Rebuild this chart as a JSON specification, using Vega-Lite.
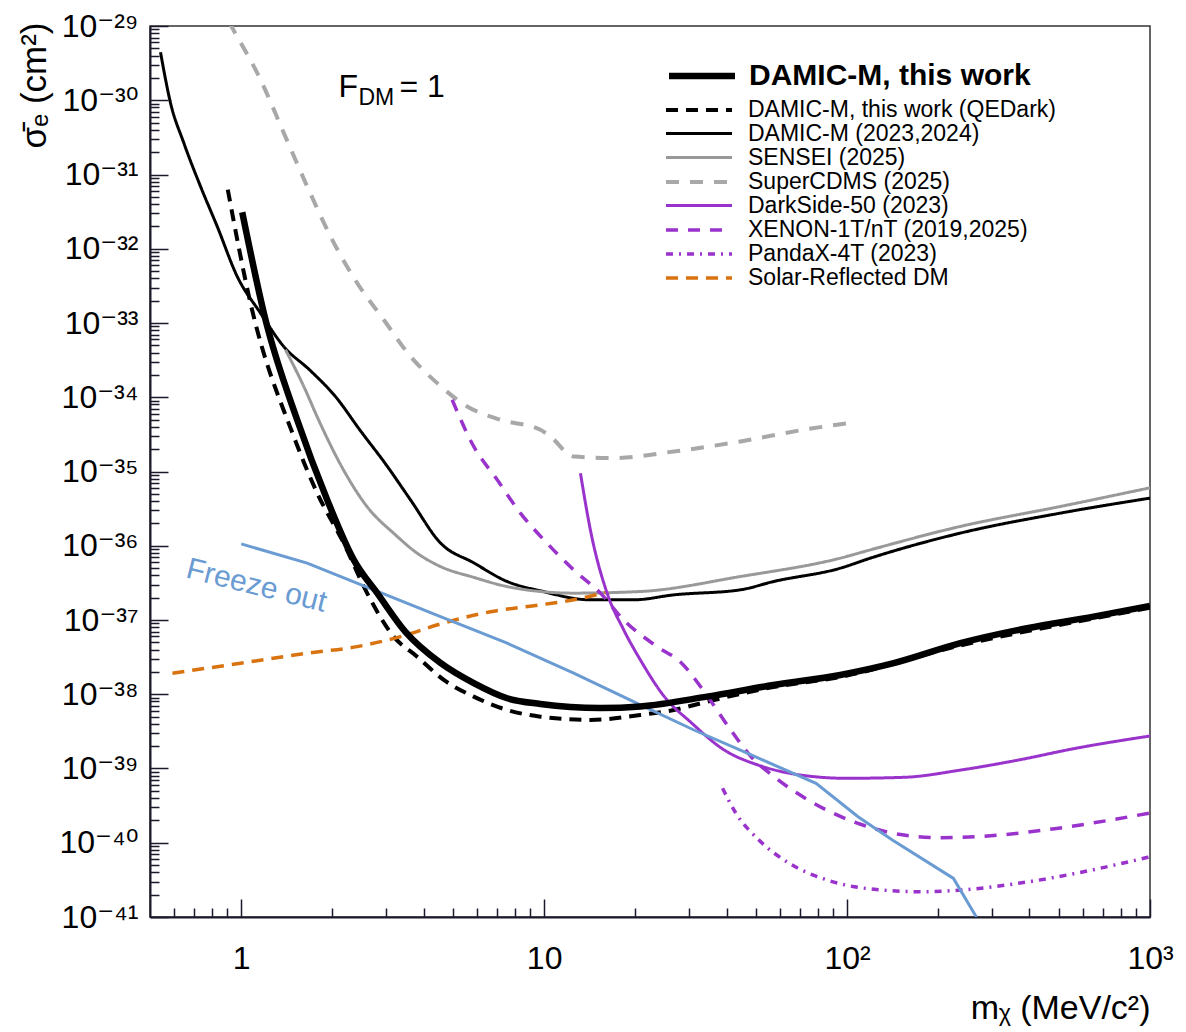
{
  "$schema": "https://vega.github.io/schema/vega-lite/v6.json",
  "width": 1000,
  "height": 891,
  "autosize": {"type": "none"},
  "padding": {"left": 150, "top": 26, "right": 36, "bottom": 115},
  "background": "white",
  "config": {
    "font": "Liberation Sans",
    "view": {"stroke": "#333333", "strokeWidth": 1.5}
  },
  "datasets": {
    "thiswork": [
      {"series": "DAMIC-M, this work", "m": 1.008, "s": 3.1e-32},
      {"series": "DAMIC-M, this work", "m": 1.203, "s": 1.107e-33},
      {"series": "DAMIC-M, this work", "m": 1.53, "s": 4.97e-35},
      {"series": "DAMIC-M, this work", "m": 1.922, "s": 4.16e-36},
      {"series": "DAMIC-M, this work", "m": 2.353, "s": 6.46e-37},
      {"series": "DAMIC-M, this work", "m": 2.839, "s": 2.18e-37},
      {"series": "DAMIC-M, this work", "m": 3.485, "s": 6.92e-38},
      {"series": "DAMIC-M, this work", "m": 4.548, "s": 2.64e-38},
      {"series": "DAMIC-M, this work", "m": 5.858, "s": 1.41e-38},
      {"series": "DAMIC-M, this work", "m": 7.55, "s": 8.83e-39},
      {"series": "DAMIC-M, this work", "m": 9.72, "s": 7.4e-39},
      {"series": "DAMIC-M, this work", "m": 15.34, "s": 6.53e-39},
      {"series": "DAMIC-M, this work", "m": 20.78, "s": 6.86e-39},
      {"series": "DAMIC-M, this work", "m": 34.5, "s": 9.29e-39},
      {"series": "DAMIC-M, this work", "m": 57.1, "s": 1.33e-38},
      {"series": "DAMIC-M, this work", "m": 95.0, "s": 1.82e-38},
      {"series": "DAMIC-M, this work", "m": 142.5, "s": 2.62e-38},
      {"series": "DAMIC-M, this work", "m": 236.5, "s": 4.87e-38},
      {"series": "DAMIC-M, this work", "m": 392.7, "s": 7.75e-38},
      {"series": "DAMIC-M, this work", "m": 651.4, "s": 1.11e-37},
      {"series": "DAMIC-M, this work", "m": 1000, "s": 1.55e-37}
    ],
    "curves": [
      {"series": "DAMIC-M, this work (QEDark)", "m": 0.903, "s": 6.26e-32},
      {"series": "DAMIC-M, this work (QEDark)", "m": 1.073, "s": 1.86e-33},
      {"series": "DAMIC-M, this work (QEDark)", "m": 1.491, "s": 2.96e-35},
      {"series": "DAMIC-M, this work (QEDark)", "m": 1.782, "s": 5.12e-36},
      {"series": "DAMIC-M, this work (QEDark)", "m": 2.181, "s": 1.08e-36},
      {"series": "DAMIC-M, this work (QEDark)", "m": 2.605, "s": 2.3e-37},
      {"series": "DAMIC-M, this work (QEDark)", "m": 3.188, "s": 5.97e-38},
      {"series": "DAMIC-M, this work (QEDark)", "m": 3.81, "s": 3.21e-38},
      {"series": "DAMIC-M, this work (QEDark)", "m": 4.665, "s": 1.56e-38},
      {"series": "DAMIC-M, this work (QEDark)", "m": 5.858, "s": 9.29e-39},
      {"series": "DAMIC-M, this work (QEDark)", "m": 7.55, "s": 6.14e-39},
      {"series": "DAMIC-M, this work (QEDark)", "m": 9.72, "s": 4.99e-39},
      {"series": "DAMIC-M, this work (QEDark)", "m": 14.21, "s": 4.51e-39},
      {"series": "DAMIC-M, this work (QEDark)", "m": 20.78, "s": 5.26e-39},
      {"series": "DAMIC-M, this work (QEDark)", "m": 26.78, "s": 6.14e-39},
      {"series": "DAMIC-M, this work (QEDark)", "m": 34.5, "s": 7.94e-39},
      {"series": "DAMIC-M, this work (QEDark)", "m": 57.1, "s": 1.25e-38},
      {"series": "DAMIC-M, this work (QEDark)", "m": 95.0, "s": 1.71e-38},
      {"series": "DAMIC-M, this work (QEDark)", "m": 236.5, "s": 4.55e-38},
      {"series": "DAMIC-M, this work (QEDark)", "m": 651.4, "s": 1.05e-37},
      {"series": "DAMIC-M, this work (QEDark)", "m": 1000, "s": 1.46e-37},

      {"series": "DAMIC-M (2023,2024)", "m": 0.5416, "s": 4.43e-30},
      {"series": "DAMIC-M (2023,2024)", "m": 0.5843, "s": 9.23e-31},
      {"series": "DAMIC-M (2023,2024)", "m": 0.6463, "s": 2.67e-31},
      {"series": "DAMIC-M (2023,2024)", "m": 0.7339, "s": 6.93e-32},
      {"series": "DAMIC-M (2023,2024)", "m": 0.8333, "s": 2.0e-32},
      {"series": "DAMIC-M (2023,2024)", "m": 0.97, "s": 4.25e-33},
      {"series": "DAMIC-M (2023,2024)", "m": 1.158, "s": 1.36e-33},
      {"series": "DAMIC-M (2023,2024)", "m": 1.379, "s": 4.87e-34},
      {"series": "DAMIC-M (2023,2024)", "m": 1.693, "s": 2.28e-34},
      {"series": "DAMIC-M (2023,2024)", "m": 2.048, "s": 1.02e-34},
      {"series": "DAMIC-M (2023,2024)", "m": 2.476, "s": 3.53e-35},
      {"series": "DAMIC-M (2023,2024)", "m": 2.994, "s": 1.27e-35},
      {"series": "DAMIC-M (2023,2024)", "m": 3.62, "s": 4.16e-36},
      {"series": "DAMIC-M (2023,2024)", "m": 4.548, "s": 1.09e-36},
      {"series": "DAMIC-M (2023,2024)", "m": 5.858, "s": 5.88e-37},
      {"series": "DAMIC-M (2023,2024)", "m": 7.55, "s": 3.3e-37},
      {"series": "DAMIC-M (2023,2024)", "m": 9.72, "s": 2.47e-37},
      {"series": "DAMIC-M (2023,2024)", "m": 14.21, "s": 1.87e-37},
      {"series": "DAMIC-M (2023,2024)", "m": 19.76, "s": 1.87e-37},
      {"series": "DAMIC-M (2023,2024)", "m": 26.78, "s": 2.18e-37},
      {"series": "DAMIC-M (2023,2024)", "m": 44.45, "s": 2.55e-37},
      {"series": "DAMIC-M (2023,2024)", "m": 57.25, "s": 3.3e-37},
      {"series": "DAMIC-M (2023,2024)", "m": 95.0, "s": 4.99e-37},
      {"series": "DAMIC-M (2023,2024)", "m": 119.4, "s": 6.81e-37},
      {"series": "DAMIC-M (2023,2024)", "m": 236.5, "s": 1.48e-36},
      {"series": "DAMIC-M (2023,2024)", "m": 505.8, "s": 2.75e-36},
      {"series": "DAMIC-M (2023,2024)", "m": 1000, "s": 4.38e-36},

      {"series": "SENSEI (2025)", "m": 1.4, "s": 4.37e-34},
      {"series": "SENSEI (2025)", "m": 1.609, "s": 1.4e-34},
      {"series": "SENSEI (2025)", "m": 1.8, "s": 4.97e-35},
      {"series": "SENSEI (2025)", "m": 2.176, "s": 1.05e-35},
      {"series": "SENSEI (2025)", "m": 2.591, "s": 3.45e-36},
      {"series": "SENSEI (2025)", "m": 3.231, "s": 1.4e-36},
      {"series": "SENSEI (2025)", "m": 3.81, "s": 7.94e-37},
      {"series": "SENSEI (2025)", "m": 4.548, "s": 5.25e-37},
      {"series": "SENSEI (2025)", "m": 5.858, "s": 3.75e-37},
      {"series": "SENSEI (2025)", "m": 7.55, "s": 2.82e-37},
      {"series": "SENSEI (2025)", "m": 9.72, "s": 2.42e-37},
      {"series": "SENSEI (2025)", "m": 12.52, "s": 2.3e-37},
      {"series": "SENSEI (2025)", "m": 20.78, "s": 2.42e-37},
      {"series": "SENSEI (2025)", "m": 44.45, "s": 3.85e-37},
      {"series": "SENSEI (2025)", "m": 95.0, "s": 6.81e-37},
      {"series": "SENSEI (2025)", "m": 119.4, "s": 8.81e-37},
      {"series": "SENSEI (2025)", "m": 236.5, "s": 1.82e-36},
      {"series": "SENSEI (2025)", "m": 505.8, "s": 3.38e-36},
      {"series": "SENSEI (2025)", "m": 1000, "s": 6.03e-36},

      {"series": "SuperCDMS (2025)", "m": 0.912, "s": 1.13e-29},
      {"series": "SuperCDMS (2025)", "m": 0.934, "s": 9.46e-30},
      {"series": "SuperCDMS (2025)", "m": 1.158, "s": 1.9e-30},
      {"series": "SuperCDMS (2025)", "m": 1.382, "s": 3.64e-31},
      {"series": "SuperCDMS (2025)", "m": 1.651, "s": 6.93e-32},
      {"series": "SuperCDMS (2025)", "m": 1.971, "s": 1.47e-32},
      {"series": "SuperCDMS (2025)", "m": 2.414, "s": 3.46e-33},
      {"series": "SuperCDMS (2025)", "m": 2.955, "s": 1.107e-33},
      {"series": "SuperCDMS (2025)", "m": 3.62, "s": 3.55e-34},
      {"series": "SuperCDMS (2025)", "m": 4.436, "s": 1.55e-34},
      {"series": "SuperCDMS (2025)", "m": 5.571, "s": 7.52e-35},
      {"series": "SuperCDMS (2025)", "m": 7.175, "s": 4.97e-35},
      {"series": "SuperCDMS (2025)", "m": 9.72, "s": 3.65e-35},
      {"series": "SuperCDMS (2025)", "m": 10.49, "s": 2.96e-35},
      {"series": "SuperCDMS (2025)", "m": 12.52, "s": 1.59e-35},
      {"series": "SuperCDMS (2025)", "m": 16.97, "s": 1.52e-35},
      {"series": "SuperCDMS (2025)", "m": 26.78, "s": 1.86e-35},
      {"series": "SuperCDMS (2025)", "m": 44.45, "s": 2.54e-35},
      {"series": "SuperCDMS (2025)", "m": 71.9, "s": 3.65e-35},
      {"series": "SuperCDMS (2025)", "m": 101.2, "s": 4.49e-35},

      {"series": "DarkSide-50 (2023)", "m": 13.18, "s": 9.5e-36},
      {"series": "DarkSide-50 (2023)", "m": 14.21, "s": 1.64e-36},
      {"series": "DarkSide-50 (2023)", "m": 16.14, "s": 2.3e-37},
      {"series": "DarkSide-50 (2023)", "m": 18.31, "s": 7.36e-38},
      {"series": "DarkSide-50 (2023)", "m": 20.78, "s": 2.9e-38},
      {"series": "DarkSide-50 (2023)", "m": 25.14, "s": 8.91e-39},
      {"series": "DarkSide-50 (2023)", "m": 30.4, "s": 4.24e-39},
      {"series": "DarkSide-50 (2023)", "m": 39.36, "s": 1.77e-39},
      {"series": "DarkSide-50 (2023)", "m": 50.97, "s": 1.11e-39},
      {"series": "DarkSide-50 (2023)", "m": 70.15, "s": 8.17e-40},
      {"series": "DarkSide-50 (2023)", "m": 99.5, "s": 7.38e-40},
      {"series": "DarkSide-50 (2023)", "m": 154, "s": 7.61e-40},
      {"series": "DarkSide-50 (2023)", "m": 238, "s": 9.55e-40},
      {"series": "DarkSide-50 (2023)", "m": 367.6, "s": 1.3e-39},
      {"series": "DarkSide-50 (2023)", "m": 568.1, "s": 1.87e-39},
      {"series": "DarkSide-50 (2023)", "m": 1000, "s": 2.74e-39},

      {"series": "XENON-1T/nT (2019,2025)", "m": 4.97, "s": 9.25e-35},
      {"series": "XENON-1T/nT (2019,2025)", "m": 5.858, "s": 2.17e-35},
      {"series": "XENON-1T/nT (2019,2025)", "m": 7.0, "s": 7.73e-36},
      {"series": "XENON-1T/nT (2019,2025)", "m": 8.35, "s": 2.75e-36},
      {"series": "XENON-1T/nT (2019,2025)", "m": 10.23, "s": 1.08e-36},
      {"series": "XENON-1T/nT (2019,2025)", "m": 12.52, "s": 4.73e-37},
      {"series": "XENON-1T/nT (2019,2025)", "m": 15.34, "s": 2.3e-37},
      {"series": "XENON-1T/nT (2019,2025)", "m": 18.31, "s": 1.0e-37},
      {"series": "XENON-1T/nT (2019,2025)", "m": 23.6, "s": 4.38e-38},
      {"series": "XENON-1T/nT (2019,2025)", "m": 28.18, "s": 2.72e-38},
      {"series": "XENON-1T/nT (2019,2025)", "m": 34.07, "s": 1.03e-38},
      {"series": "XENON-1T/nT (2019,2025)", "m": 40.58, "s": 3.66e-39},
      {"series": "XENON-1T/nT (2019,2025)", "m": 48.27, "s": 1.44e-39},
      {"series": "XENON-1T/nT (2019,2025)", "m": 57.42, "s": 7.75e-40},
      {"series": "XENON-1T/nT (2019,2025)", "m": 74.5, "s": 3.76e-40},
      {"series": "XENON-1T/nT (2019,2025)", "m": 108.7, "s": 1.82e-40},
      {"series": "XENON-1T/nT (2019,2025)", "m": 154, "s": 1.27e-40},
      {"series": "XENON-1T/nT (2019,2025)", "m": 205.8, "s": 1.17e-40},
      {"series": "XENON-1T/nT (2019,2025)", "m": 318, "s": 1.27e-40},
      {"series": "XENON-1T/nT (2019,2025)", "m": 491.3, "s": 1.56e-40},
      {"series": "XENON-1T/nT (2019,2025)", "m": 1000, "s": 2.51e-40},

      {"series": "PandaX-4T (2023)", "m": 38.82, "s": 5.41e-40},
      {"series": "PandaX-4T (2023)", "m": 42.98, "s": 2.49e-40},
      {"series": "PandaX-4T (2023)", "m": 51.16, "s": 1.09e-40},
      {"series": "PandaX-4T (2023)", "m": 64.5, "s": 5.28e-41},
      {"series": "PandaX-4T (2023)", "m": 86.2, "s": 3.14e-41},
      {"series": "PandaX-4T (2023)", "m": 115.2, "s": 2.43e-41},
      {"series": "PandaX-4T (2023)", "m": 178.1, "s": 2.19e-41},
      {"series": "PandaX-4T (2023)", "m": 238, "s": 2.31e-41},
      {"series": "PandaX-4T (2023)", "m": 367.6, "s": 2.84e-41},
      {"series": "PandaX-4T (2023)", "m": 568.1, "s": 3.87e-41},
      {"series": "PandaX-4T (2023)", "m": 1000, "s": 6.47e-41},

      {"series": "Solar-Reflected DM", "m": 0.593, "s": 1.92e-38},
      {"series": "Solar-Reflected DM", "m": 0.995, "s": 2.62e-38},
      {"series": "Solar-Reflected DM", "m": 1.651, "s": 3.57e-38},
      {"series": "Solar-Reflected DM", "m": 2.414, "s": 4.38e-38},
      {"series": "Solar-Reflected DM", "m": 3.356, "s": 5.97e-38},
      {"series": "Solar-Reflected DM", "m": 4.548, "s": 8.85e-38},
      {"series": "Solar-Reflected DM", "m": 6.65, "s": 1.29e-37},
      {"series": "Solar-Reflected DM", "m": 9.72, "s": 1.6e-37},
      {"series": "Solar-Reflected DM", "m": 12.52, "s": 1.87e-37},
      {"series": "Solar-Reflected DM", "m": 15.94, "s": 2.34e-37}
    ],
    "freeze": [
      {"m": 1.0, "s": 1.06e-36},
      {"m": 1.651, "s": 5.83e-37},
      {"m": 2.739, "s": 2.55e-37},
      {"m": 4.548, "s": 1.11e-37},
      {"m": 7.55, "s": 4.87e-38},
      {"m": 12.52, "s": 1.92e-38},
      {"m": 20.78, "s": 7.18e-39},
      {"m": 31.23, "s": 3.3e-39},
      {"m": 48.27, "s": 1.52e-39},
      {"m": 79.0, "s": 6.32e-40},
      {"m": 108.7, "s": 2.24e-40},
      {"m": 141.1, "s": 1.09e-40},
      {"m": 224.5, "s": 3.31e-41},
      {"m": 267.2, "s": 1.0e-41}
    ]
  },
  "layer": [
    {
      "data": {"name": "curves"},
      "mark": {"type": "line", "interpolate": "monotone", "clip": true},
      "encoding": {
        "x": {
          "field": "m", "type": "quantitative",
          "scale": {"type": "log", "domain": [0.5, 1000], "nice": false},
          "axis": {
            "title": "mᵪ (MeV/c²)",
            "values": [0.6, 0.7, 0.8, 0.9, 1, 2, 3, 4, 5, 6, 7, 8, 9, 10, 20, 30, 40, 50, 60, 70, 80, 90, 100, 200, 300, 400, 500, 600, 700, 800, 900, 1000],
            "labelExpr": "datum.value == 1 ? '1' : datum.value == 10 ? '10' : datum.value == 100 ? '10²' : datum.value == 1000 ? '10³' : ''",
            "grid": false,
            "domainColor": "#1a1a2a", "domainWidth": 2,
            "tickColor": "#1a1a2a", "tickWidth": 1.5,
            "tickSize": {"condition": {"test": "abs(log(datum.value)/LN10 - round(log(datum.value)/LN10)) < 0.01", "value": -18}, "value": -9},
            "labelFont": "Liberation Sans, DejaVu Sans",
            "labelFontSize": 32, "labelColor": "black", "labelPadding": 44,
            "labelBaseline": "top", "labelAlign": "center",
            "labelOverlap": false, "labelFlush": false, "labelBound": false,
            "titleFont": "Liberation Sans, DejaVu Sans",
            "titleFontSize": 34, "titleFontWeight": "normal", "titleColor": "black",
            "titleX": 1000, "titleY": 101, "titleAlign": "right", "titleBaseline": "alphabetic"
          }
        },
        "y": {
          "field": "s", "type": "quantitative",
          "scale": {"type": "log", "domain": [1e-41, 1e-29], "nice": false},
          "axis": {
            "title": "σ̄ₑ (cm²)",
            "values": [1e-41, 2e-41, 3e-41, 4e-41, 5e-41, 6e-41, 7e-41, 8e-41, 9e-41,
                       1e-40, 2e-40, 3e-40, 4e-40, 5e-40, 6e-40, 7e-40, 8e-40, 9e-40,
                       1e-39, 2e-39, 3e-39, 4e-39, 5e-39, 6e-39, 7e-39, 8e-39, 9e-39,
                       1e-38, 2e-38, 3e-38, 4e-38, 5e-38, 6e-38, 7e-38, 8e-38, 9e-38,
                       1e-37, 2e-37, 3e-37, 4e-37, 5e-37, 6e-37, 7e-37, 8e-37, 9e-37,
                       1e-36, 2e-36, 3e-36, 4e-36, 5e-36, 6e-36, 7e-36, 8e-36, 9e-36,
                       1e-35, 2e-35, 3e-35, 4e-35, 5e-35, 6e-35, 7e-35, 8e-35, 9e-35,
                       1e-34, 2e-34, 3e-34, 4e-34, 5e-34, 6e-34, 7e-34, 8e-34, 9e-34,
                       1e-33, 2e-33, 3e-33, 4e-33, 5e-33, 6e-33, 7e-33, 8e-33, 9e-33,
                       1e-32, 2e-32, 3e-32, 4e-32, 5e-32, 6e-32, 7e-32, 8e-32, 9e-32,
                       1e-31, 2e-31, 3e-31, 4e-31, 5e-31, 6e-31, 7e-31, 8e-31, 9e-31,
                       1e-30, 2e-30, 3e-30, 4e-30, 5e-30, 6e-30, 7e-30, 8e-30, 9e-30,
                       1e-29],
            "labelExpr": "abs(log(datum.value)/LN10 - round(log(datum.value)/LN10)) < 0.01 ? '10⁻' + substring('⁰¹²³⁴⁵⁶⁷⁸⁹', floor(-round(log(datum.value)/LN10)/10), floor(-round(log(datum.value)/LN10)/10) + 1) + substring('⁰¹²³⁴⁵⁶⁷⁸⁹', (-round(log(datum.value)/LN10)) % 10, (-round(log(datum.value)/LN10)) % 10 + 1) : ''",
            "grid": false,
            "domainColor": "#1a1a2a", "domainWidth": 2,
            "tickColor": "#1a1a2a", "tickWidth": 1.5,
            "tickSize": {"condition": {"test": "abs(log(datum.value)/LN10 - round(log(datum.value)/LN10)) < 0.01", "value": -18}, "value": -9},
            "labelFont": "Liberation Sans, DejaVu Sans",
            "labelFontSize": 32, "labelColor": "black", "labelPadding": 30,
            "labelAlign": "right", "labelBaseline": "middle",
            "labelOverlap": false, "labelFlush": false, "labelBound": false,
            "titleFont": "Liberation Sans, DejaVu Sans",
            "titleFontSize": 35, "titleFontWeight": "normal", "titleColor": "black",
            "titleAngle": -90, "titleX": -116, "titleY": -4, "titleAlign": "right", "titleBaseline": "middle"
          }
        },
        "color": {
          "field": "series", "type": "nominal",
          "scale": {
            "domain": ["DAMIC-M, this work (QEDark)", "DAMIC-M (2023,2024)", "SENSEI (2025)", "SuperCDMS (2025)", "DarkSide-50 (2023)", "XENON-1T/nT (2019,2025)", "PandaX-4T (2023)", "Solar-Reflected DM"],
            "range": ["#000000", "#000000", "#999999", "#a8a8a8", "#9933cc", "#9933cc", "#9933cc", "#d9730f"]
          },
          "legend": {"title": null, "orient": "none", "legendX": 537, "legendY": 72, "symbolType": "M-3.3,0H3.3", "symbolSize": 400, "labelFontSize": 23, "labelColor": "black", "labelLimit": 700, "labelOffset": 37, "rowPadding": 0, "padding": 0}
        },
        "strokeDash": {
          "field": "series", "type": "nominal",
          "scale": {
            "domain": ["DAMIC-M, this work (QEDark)", "DAMIC-M (2023,2024)", "SENSEI (2025)", "SuperCDMS (2025)", "DarkSide-50 (2023)", "XENON-1T/nT (2019,2025)", "PandaX-4T (2023)", "Solar-Reflected DM"],
            "range": [[12, 8], [1, 0], [1, 0], [13, 11], [1, 0], [12, 10], [7, 6, 2, 6], [12, 8]]
          },
          "legend": {"title": null, "orient": "none", "legendX": 537, "legendY": 72, "symbolType": "M-3.3,0H3.3", "symbolSize": 400, "labelFontSize": 23, "labelColor": "black", "labelLimit": 700, "labelOffset": 37, "rowPadding": 0, "padding": 0}
        },
        "strokeWidth": {
          "field": "series", "type": "nominal",
          "scale": {
            "type": "ordinal",
            "domain": ["DAMIC-M, this work (QEDark)", "DAMIC-M (2023,2024)", "SENSEI (2025)", "SuperCDMS (2025)", "DarkSide-50 (2023)", "XENON-1T/nT (2019,2025)", "PandaX-4T (2023)", "Solar-Reflected DM"],
            "range": [4, 3, 3, 4, 3, 3.5, 3.5, 3.5]
          },
          "legend": {"title": null, "orient": "none", "legendX": 537, "legendY": 72, "symbolType": "M-3.3,0H3.3", "symbolSize": 400, "labelFontSize": 23, "labelColor": "black", "labelLimit": 700, "labelOffset": 37, "rowPadding": 0, "padding": 0}
        }
      }
    },
    {
      "data": {"name": "freeze"},
      "mark": {"type": "line", "color": "#6a9bd2", "strokeWidth": 3, "clip": true},
      "encoding": {
        "x": {"field": "m", "type": "quantitative"},
        "y": {"field": "s", "type": "quantitative"}
      }
    },
    {
      "data": {"name": "thiswork"},
      "mark": {"type": "line", "color": "black", "interpolate": "monotone", "clip": true},
      "encoding": {
        "x": {"field": "m", "type": "quantitative"},
        "y": {"field": "s", "type": "quantitative"},
        "strokeWidth": {
          "field": "series", "type": "nominal",
          "scale": {"type": "ordinal", "domain": ["DAMIC-M, this work"], "range": [6.5]},
          "legend": {"title": null, "orient": "none", "legendX": 537, "legendY": 35, "symbolType": "M-3.3,0H3.3", "symbolSize": 400, "symbolStrokeColor": "black", "labelFontSize": 30, "labelFontWeight": "bold", "labelColor": "black", "labelLimit": 700, "labelOffset": 32, "padding": 0}
        }
      }
    },
    {
      "data": {"values": [{}]},
      "mark": {"type": "text", "text": "F", "fontSize": 32, "align": "left", "baseline": "alphabetic", "color": "black"},
      "encoding": {
        "x": {"datum": 2.095, "type": "quantitative"},
        "y": {"datum": 1.12e-30, "type": "quantitative"}
      }
    },
    {
      "data": {"values": [{}]},
      "mark": {"type": "text", "text": "DM", "fontSize": 23, "align": "left", "baseline": "alphabetic", "color": "black"},
      "encoding": {
        "x": {"datum": 2.438, "type": "quantitative"},
        "y": {"datum": 8.75e-31, "type": "quantitative"}
      }
    },
    {
      "data": {"values": [{}]},
      "mark": {"type": "text", "text": "= 1", "fontSize": 32, "align": "left", "baseline": "alphabetic", "color": "black"},
      "encoding": {
        "x": {"datum": 3.33, "type": "quantitative"},
        "y": {"datum": 1.12e-30, "type": "quantitative"}
      }
    },
    {
      "data": {"values": [{}]},
      "mark": {"type": "text", "text": "Freeze out", "fontSize": 30, "align": "center", "baseline": "middle", "angle": 14, "color": "#6a9bd2"},
      "encoding": {
        "x": {"datum": 1.123, "type": "quantitative"},
        "y": {"datum": 2.88e-37, "type": "quantitative"}
      }
    }
  ],
  "resolve": {
    "scale": {"color": "independent", "strokeDash": "independent", "strokeWidth": "independent"},
    "legend": {"color": "independent", "strokeDash": "independent", "strokeWidth": "independent"}
  }
}
